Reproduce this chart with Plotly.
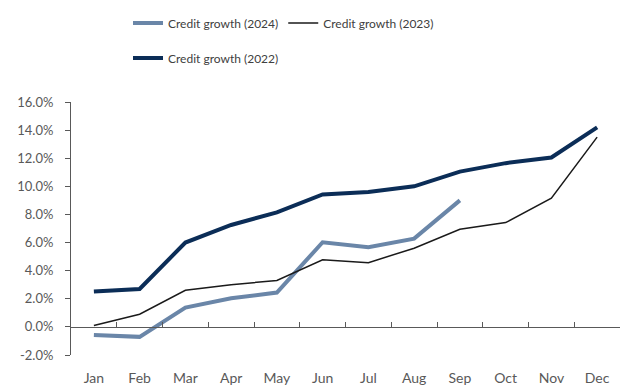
import plotly.graph_objects as go

# Monthly credit growth, percent
months = ["Jan", "Feb", "Mar", "Apr", "May", "Jun",
          "Jul", "Aug", "Sep", "Oct", "Nov", "Dec"]
growth_2024 = [-0.57, -0.71, 1.37, 2.04, 2.44, 6.02, 5.67, 6.28, 9.0]
growth_2023 = [0.1, 0.9, 2.6, 3.0, 3.3, 4.77, 4.57, 5.6, 6.95, 7.42, 9.15, 13.5]
growth_2022 = [2.51, 2.7, 6.0, 7.25, 8.15, 9.42, 9.6, 10.0, 11.05, 11.65, 12.05, 14.2]

y_ticks = [-2, 0, 2, 4, 6, 8, 10, 12, 14, 16]
y_tick_text = [f"{v:.1f}%" for v in y_ticks]
y_min, y_max = -2, 16

FONT = "Lato"
TEXT_COLOR = "#595959"
AXIS_COLOR = "#595959"

fig = go.Figure()
fig.add_trace(go.Scatter(
    x=months[:len(growth_2024)], y=growth_2024, mode="lines",
    name="Credit growth (2024)", line=dict(color="#6A86A8", width=4),
    legend="legend"))
# 2023 is plotted against the zero-line axis (same categories and range)
fig.add_trace(go.Scatter(
    x=months, y=growth_2023, mode="lines", xaxis="x2",
    name="Credit growth (2023)", line=dict(color="#1A1A1A", width=1.5),
    legend="legend"))
fig.add_trace(go.Scatter(
    x=months, y=growth_2022, mode="lines",
    name="Credit growth (2022)", line=dict(color="#0B2D57", width=4),
    legend="legend2"))

# second x axis sits on the zero line and carries the boundary tick marks
zero_pos = (0 - y_min) / (y_max - y_min)

legend_common = dict(
    orientation="h", xref="container", yref="container",
    xanchor="left", yanchor="middle",
    font=dict(family=FONT, size=12, color="#404040"),
    bgcolor="rgba(0,0,0,0)", itemclick=False, tracegroupgap=0,
)

fig.update_layout(
    width=622, height=385,
    margin=dict(l=71, r=2, t=102, b=30),
    paper_bgcolor="white", plot_bgcolor="white",
    font=dict(family=FONT, size=13, color=TEXT_COLOR),
    legend=dict(x=128 / 622, y=1 - 23 / 385, **legend_common),
    legend2=dict(x=128 / 622, y=1 - 58 / 385, **legend_common),
    xaxis=dict(
        type="category", categoryorder="array", categoryarray=months,
        range=[-0.5, 11.5], showline=False, showgrid=False, zeroline=False,
        ticks="", ticklabelstandoff=13, automargin=False,
        tickfont=dict(family=FONT, size=14, color=TEXT_COLOR),
    ),
    xaxis2=dict(
        type="category", categoryorder="array", categoryarray=months,
        overlaying="x", anchor="free", position=zero_pos,
        range=[-0.5, 11.5], tickson="boundaries", tickvals=months,
        showticklabels=False, ticks="inside", ticklen=5,
        tickcolor=AXIS_COLOR, showline=True, linecolor=AXIS_COLOR,
        linewidth=1, showgrid=False, zeroline=False, automargin=False,
    ),
    yaxis=dict(
        range=[y_min, y_max], tickvals=y_ticks, ticktext=y_tick_text,
        showline=True, linecolor=AXIS_COLOR, linewidth=1,
        ticks="outside", ticklen=5, tickcolor=AXIS_COLOR,
        ticklabelstandoff=9, automargin=False,
        showgrid=False, zeroline=False,
        tickfont=dict(family=FONT, size=13, color=TEXT_COLOR),
    ),
)

fig.write_html("out.html")
